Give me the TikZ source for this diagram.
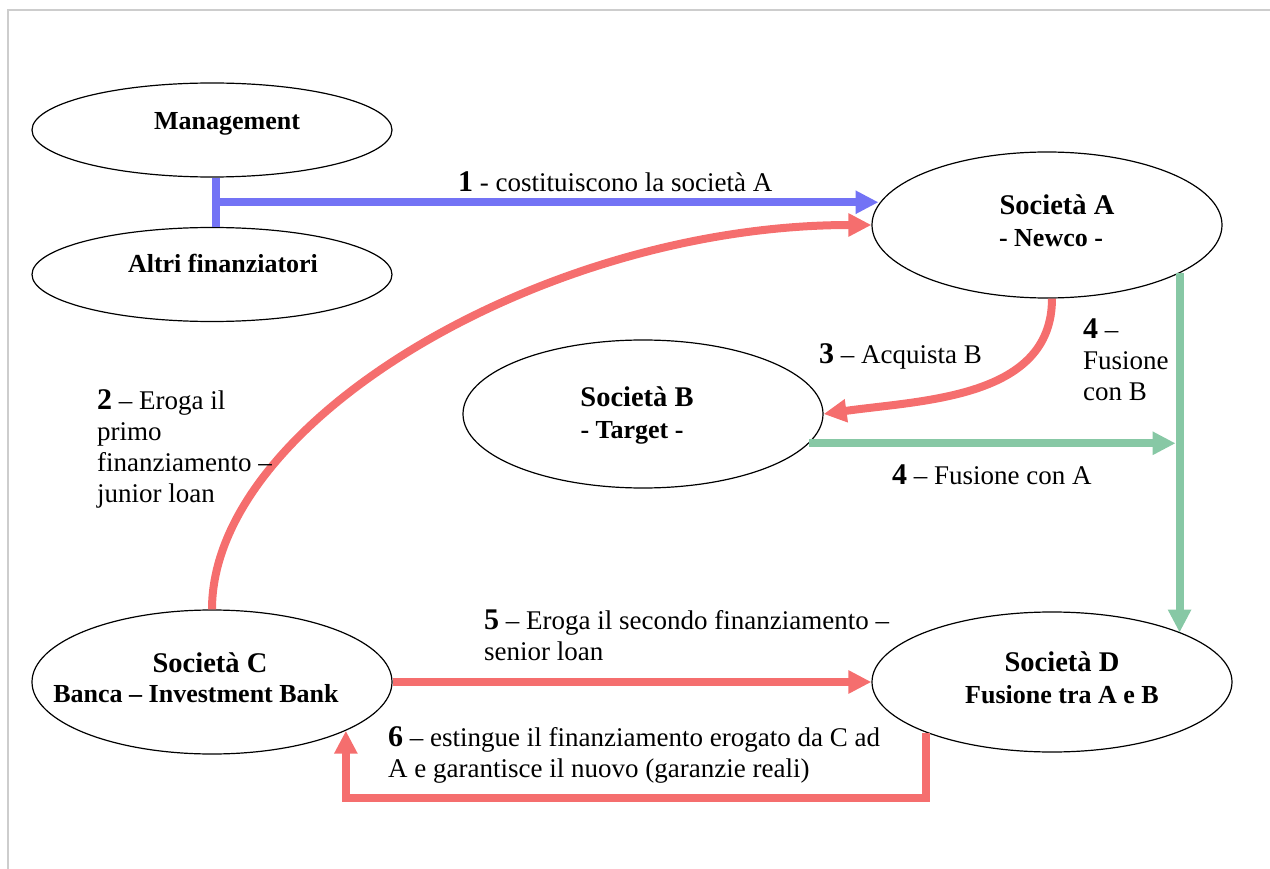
\documentclass[tikz,border=0pt]{standalone}
\usepackage{fontspec}
\setmainfont{Liberation Serif}
\usetikzlibrary{shapes.geometric,arrows.meta,calc}
\definecolor{lblue}{RGB}{115,115,245}
\definecolor{lred}{RGB}{245,110,110}
\definecolor{lgreen}{RGB}{135,200,165}
\definecolor{lframe}{RGB}{205,205,205}
\tikzset{
  soc/.style={draw,ellipse,line width=1.2pt,minimum width=360pt,minimum height=94pt,inner sep=0pt},
  soctitle/.style={anchor=base,inner sep=0pt,font=\fontsize{28.5}{32}\selectfont\bfseries},
  socsub/.style={anchor=base,inner sep=0pt,font=\fontsize{26}{31}\selectfont\bfseries},
  lbl/.style={anchor=base west,align=left,inner sep=0pt,font=\fontsize{27}{31}\selectfont},
  flow/.style={line width=8pt,-{Triangle[length=23pt,width=22pt]}},
  bar/.style={line width=8pt},
}
\newcommand{\stepno}[1]{{\fontsize{30}{31}\selectfont\bfseries #1}}

\begin{document}
\begin{tikzpicture}[x=1pt,y=1pt]
\useasboundingbox (0,0) rectangle (1270,-869);
\draw[lframe,line width=2pt] (8,-869) -- (8,-10) -- (1270,-10);

\node[soc] (M) at (212,-130) {};
\node[soc] (F) at (212,-274.5) {};
\node[soc,minimum width=350pt,minimum height=146pt] (A) at (1047,-225) {};
\node[soc,minimum height=148pt] (B) at (643,-414) {};
\node[soc,minimum height=144pt] (C) at (212,-682) {};
\node[soc,minimum height=140pt] (D) at (1052,-682) {};

\node[socsub] (Mt) at (227,-130) {Management};
\node[socsub] (Ft) at (223,-273) {Altri finanziatori};
\node[soctitle] (At) at (1057,-215) {Società A};
\node[socsub] (As) at (1051,-247) {- Newco -};
\node[soctitle] (Bt) at (637,-406) {Società B};
\node[socsub] (Bs) at (632,-438) {- Target -};
\node[soctitle] (Ct) at (210,-672) {Società C};
\node[socsub] (Cs) at (196,-702) {Banca – Investment Bank};
\node[soctitle] (Dt) at (1062,-671) {Società D};
\node[socsub] (Ds) at (1062,-703) {Fusione tra A e B};

% 1
\draw[bar,lblue] ([xshift=4pt]M.south) -- ([xshift=4pt]F.north);
\coordinate (m1) at ($([xshift=4pt]M.south)!0.5!([xshift=4pt]F.north)$);
\draw[flow,lblue] (m1) -- (m1 -| A.173);
% 2, 3
\draw[flow,lred] (C.north) to[out=90,in=180,out looseness=0.63,in looseness=1.1] (A.west);
\draw[flow,lred] ([xshift=5pt]A.south) to[out=-90,in=8] (B.east);
% 4
\draw[flow,lgreen] (A.-20) -- (A.-20 |- D.21);
\coordinate (g1) at ($(A.-20)+(-4,0)$);
\draw[flow,lgreen] (B.-10) -- (B.-10 -| g1);
% 5, 6
\draw[flow,lred] (C.east) -- (D.west);
\draw[flow,lred] (D.-158) -- ++(0,-65) -| (C.-20);

% labels (base = last line)
\node[lbl] (l1) at (458,-192) {\stepno{1} - costituiscono la società A};
\node[lbl] (l2) at (97,-502) {\stepno{2} – Eroga il\\primo\\finanziamento –\\junior loan};
\node[lbl] (l3) at (819,-363) {\stepno{3} – Acquista B};
\node[lbl] (l4a) at (1083,-400) {\stepno{4} –\\Fusione\\con B};
\node[lbl] (l4b) at (892,-484) {\stepno{4} – Fusione con A};
\node[lbl] (l5) at (484,-660) {\stepno{5} – Eroga il secondo finanziamento –\\senior loan};
\node[lbl] (l6) at (388,-777) {\stepno{6} – estingue il finanziamento erogato da C ad\\A e garantisce il nuovo (garanzie reali)};
\end{tikzpicture}
\end{document}
